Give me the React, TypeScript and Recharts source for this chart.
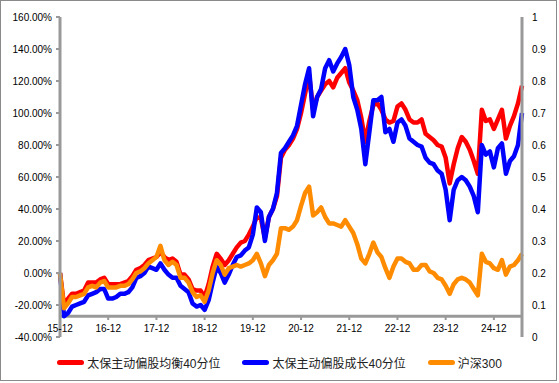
import React from 'react';
import { LineChart, Line, XAxis, YAxis, Legend, ReferenceLine } from 'recharts';

const FONT = '"Liberation Sans", Arial, "Noto Sans CJK SC", sans-serif';
const AXIS_GRAY = '#999999';

// 月度节点：15-12 ... 25-07
const START_YEAR = 15;
const MONTH_COUNT = 116;
const MONTHS: string[] = [];
for (let i = 0; i < MONTH_COUNT; i++) {
  const m = (11 + i) % 12 + 1;
  const y = START_YEAR + Math.floor((11 + i) / 12);
  MONTHS.push(`${y}-${m < 10 ? '0' + m : m}`);
}

const YEAR_TICKS = ['15-12', '16-12', '17-12', '18-12', '19-12', '20-12', '21-12', '22-12', '23-12', '24-12'];
const LEFT_TICKS = [-40, -20, 0, 20, 40, 60, 80, 100, 120, 140, 160];
const RIGHT_TICKS = [0, 0.1, 0.2, 0.3, 0.4, 0.5, 0.6, 0.7, 0.8, 0.9, 1];

// 太保主动偏股均衡40分位 (%)
const BALANCED = [
  0, -20, -16, -13, -13, -12, -11, -6, -6, -6, -4, -3,
  -7, -7, -7, -7, -6, -5, -2, 2, 3, 5, 8, 9,
  10, 13, 10, 8, 9, 7, -1, -1, -4, -10, -11, -11,
  -15, -7, 4, 12, 9, 5, 8, 12, 16, 19, 20, 24,
  29, 35, 34, 22, 35, 40, 48, 72, 77, 80, 84, 90,
  100, 112, 124, 102, 110, 114, 118, 120, 116, 122, 125, 128,
  119, 114, 108, 97, 82, 95, 105, 106, 102, 96, 94, 95,
  104, 106, 102, 96, 94, 94, 96, 87, 85, 83, 80, 79,
  72, 56, 68, 78, 85, 82, 77, 70, 62, 102, 95, 96,
  90, 96, 102, 84, 92, 98, 106, 117,
];

// 太保主动偏股成长40分位 (%)
const GROWTH = [
  0, -27, -25, -21, -20, -19, -18, -14, -13, -12, -10, -10,
  -16, -16, -15, -13, -13, -12, -9, -3, -2, 0, 4, 3,
  2, 6, 2, -1, -3, -3, -8, -10, -12, -19, -21, -20,
  -23, -17, -6, 4, 0, -6, -1, 5, 10, 11, 14, 16,
  24, 41, 38, 20, 35, 40, 50, 75, 78, 82, 86, 92,
  105, 118, 128, 98, 110, 115, 128, 133, 126, 131, 135, 140,
  130, 110, 102, 90, 68, 88, 108, 108, 110, 88, 90, 82,
  94, 96, 92, 84, 82, 80, 79, 72, 69, 68, 64, 62,
  52, 33, 52, 58, 60, 58, 54, 48, 38, 80, 74, 76,
  66, 78, 81, 62, 70, 73, 80, 100,
];

// 沪深300 (%)
const CSI300 = [
  0, -22, -19, -15, -15, -14, -13, -9, -8, -9, -6, -5,
  -9, -9, -9, -8, -8, -7, -4, 0, 1, 3, 6, 8,
  10, 17, 8, 5, 7, 5, -3, -3, -6, -12, -15, -14,
  -18, -11, 0, 8, 5, -1, 3, 4, 5, 4, 5, 6,
  8, 12, 6, -2, 5, 8, 12, 28, 28, 27, 29, 33,
  42, 50, 54, 36, 38, 41, 35, 31, 31, 30, 29, 33,
  29, 25, 18, 9, 6, 12, 19, 13, 10, 3, -3, 4,
  9, 9, 7, 6, 2, 2, 5, 5, 1, 0, -3, -4,
  -8, -13, -7, -4, -3, -4, -6, -10, -14, 12, 7, 6,
  3, 2, 8, -1, 4, 5, 8, 12,
];

const data = MONTHS.map((d, i) => ({ d, balanced: BALANCED[i], growth: GROWTH[i], csi: CSI300[i] }));

// 横轴画在 -27% 处，标签跟着上移
const AXIS_CROSS = -27;

const YearTick = (props: any) => {
  const { x, y, payload } = props;
  return (
    <g>
      <line x1={x} x2={x} y1={y - 21} y2={y - 17} stroke={AXIS_GRAY} strokeWidth={2} />
      <text x={x} y={y - 5} textAnchor="middle" fontSize={10} fill="#000" fontFamily={FONT}>{payload.value}</text>
    </g>
  );
};

const LegendRow = (props: any) => {
  const { payload } = props;
  return (
    <div style={{ display: 'flex', justifyContent: 'center', gap: 22, fontFamily: FONT, fontSize: 12, color: '#222' }}>
      {(payload || []).map((p: any) => (
        <span key={p.value} style={{ display: 'flex', alignItems: 'center' }}>
          <span style={{ display: 'inline-block', width: 27, height: 5, borderRadius: 3, background: p.color, marginRight: 3 }} />
          {p.value}
        </span>
      ))}
    </div>
  );
};

export default function App() {
  return (
    <div style={{ position: 'absolute', left: 0, top: 0, width: 559, height: 383, background: '#fff', fontFamily: FONT }}>
      <div style={{ position: 'absolute', left: 0, top: 0, width: 557, height: 381, border: '1px solid #8a8a8a', boxSizing: 'border-box' }} />
      <LineChart width={559} height={383} data={data} margin={{ top: 17, right: 0, bottom: 45, left: 0 }}>
        <XAxis dataKey="d" ticks={YEAR_TICKS} interval={0} axisLine={false} tickLine={false}
          tickSize={0} tickMargin={0} height={1} tick={<YearTick />} padding={{ left: 0, right: 0 }} />
        <YAxis yAxisId="l" domain={[-40, 160]} ticks={LEFT_TICKS} width={60} allowDataOverflow
          tickFormatter={(v: number) => v.toFixed(2) + '%'}
          axisLine={{ stroke: AXIS_GRAY, strokeWidth: 3 }} tickLine={{ stroke: AXIS_GRAY, strokeWidth: 2 }}
          tickSize={4} tickMargin={4} tick={{ fontSize: 10, fill: '#000', fontFamily: FONT }} />
        <YAxis yAxisId="r" orientation="right" type="number" domain={[0, 1]} ticks={RIGHT_TICKS} width={37} allowDataOverflow
          tickFormatter={(v: number) => String(+v.toFixed(1))}
          axisLine={{ stroke: AXIS_GRAY, strokeWidth: 3 }} tickLine={false}
          tickSize={4} tickMargin={6} tick={{ fontSize: 10, fill: '#000', fontFamily: FONT }} />
        <ReferenceLine yAxisId="l" y={AXIS_CROSS} stroke={AXIS_GRAY} strokeWidth={3} />
        <Line yAxisId="l" type="linear" dataKey="balanced" name="太保主动偏股均衡40分位" stroke="#ff0000" strokeWidth={4.5}
          dot={false} strokeLinejoin="round" isAnimationActive={false} />
        <Line yAxisId="l" type="linear" dataKey="growth" name="太保主动偏股成长40分位" stroke="#0000ff" strokeWidth={4.5}
          dot={false} strokeLinejoin="round" isAnimationActive={false} />
        <Line yAxisId="l" type="linear" dataKey="csi" name="沪深300" stroke="#ff8c00" strokeWidth={4.5}
          dot={false} strokeLinejoin="round" isAnimationActive={false} />
        <Legend layout="horizontal" verticalAlign="middle" align="center" content={<LegendRow />}
          wrapperStyle={{ top: 354, left: 0, width: 559 }} />
      </LineChart>
    </div>
  );
}
